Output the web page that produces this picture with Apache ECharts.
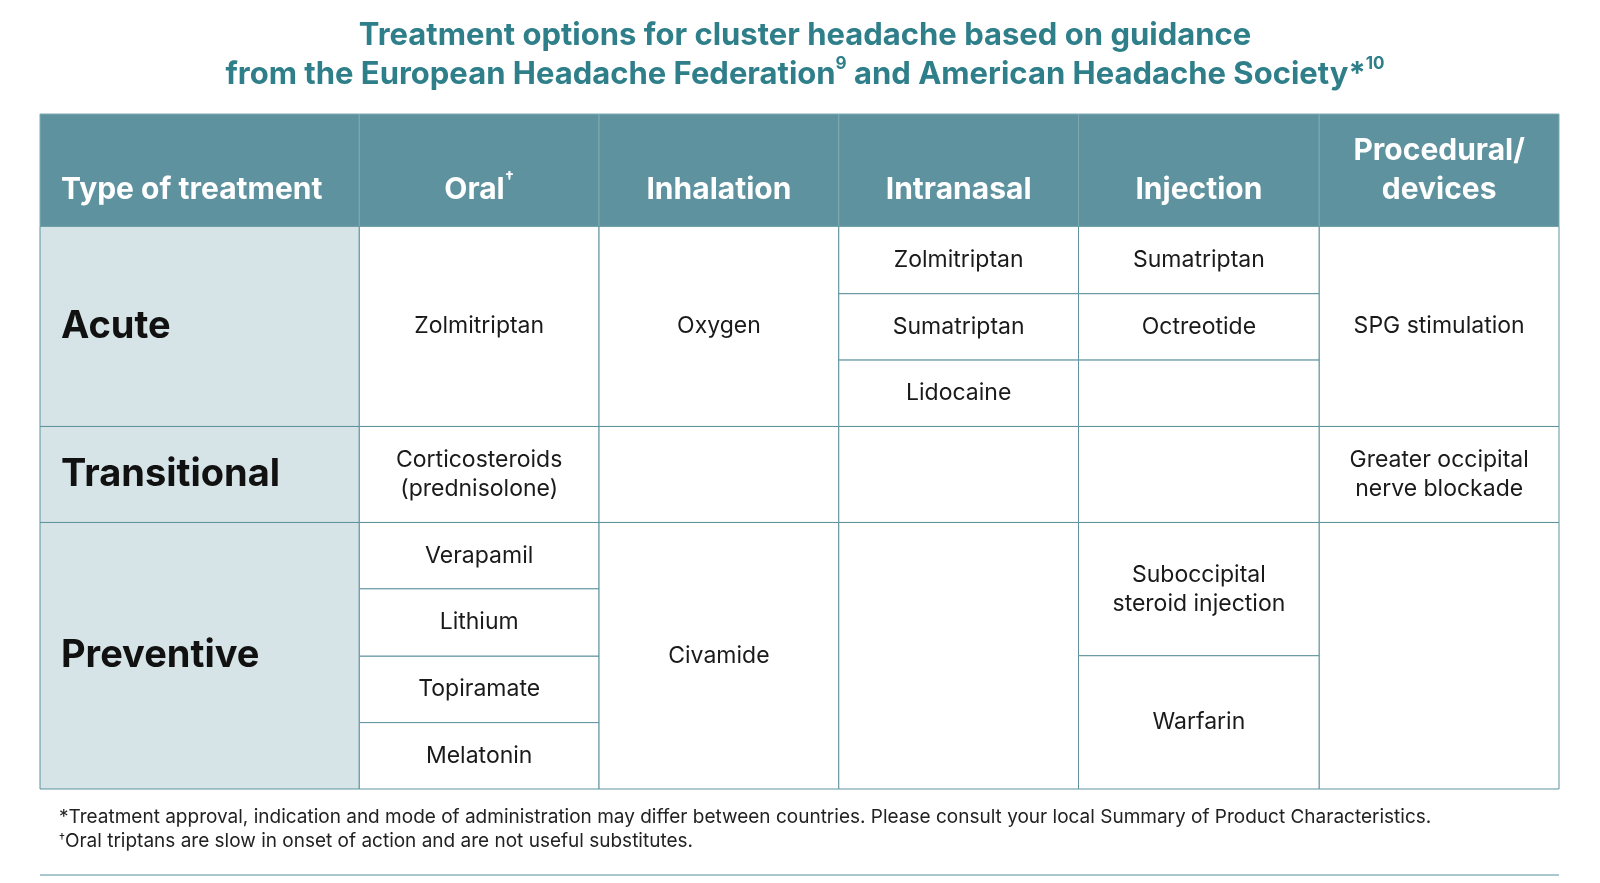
<!DOCTYPE html>
<html><head><meta charset="utf-8">
<script src="https://cdn.jsdelivr.net/npm/echarts@6/dist/echarts.min.js"></script>
<style>html,body{margin:0;padding:0;background:#fff}#c{width:1600px;height:883px}</style>
</head><body><div id="c"></div>
<script>
const headers = ['Type of treatment', 'Oral{s|†}', 'Inhalation', 'Intranasal', 'Injection', 'Procedural/\ndevices'];
const rowTypes = ['Acute', 'Transitional', 'Preventive'];
// column edges and row edges in table units
const colEdges = [0, 313, 548, 783, 1018, 1254, 1489];
const rowEdges = {head: [0, 110], acute: [110, 176, 241, 306], trans: [306, 400], prev: [400, 465, 531, 596, 661]};
const acuteOral = ['Zolmitriptan'];
const acuteInhalation = ['Oxygen'];
const acuteIntranasal = ['Zolmitriptan', 'Sumatriptan', 'Lidocaine'];
const acuteInjection = ['Sumatriptan', 'Octreotide', ''];
const acuteProcedural = ['SPG stimulation'];
const transitional = ['Corticosteroids\n(prednisolone)', '', '', '', 'Greater occipital\nnerve blockade'];
const preventiveOral = ['Verapamil', 'Lithium', 'Topiramate', 'Melatonin'];
const preventiveInhalation = ['Civamide'];
const preventiveIntranasal = [''];
const preventiveInjection = ['Suboccipital\nsteroid injection', 'Warfarin'];
const preventiveProcedural = [''];

const cells = [];
function add(col, y0, y1, text, kind) { cells.push({col, y0, y1, text, kind}); }
headers.forEach((h, i) => add(i, rowEdges.head[0], rowEdges.head[1], h, i === 0 ? 'headL' : 'head'));
add(0, rowEdges.acute[0], rowEdges.acute[3], rowTypes[0], 'label');
add(0, rowEdges.trans[0], rowEdges.trans[1], rowTypes[1], 'label');
add(0, rowEdges.prev[0], rowEdges.prev[4], rowTypes[2], 'label');
function stack(col, list, edges) {
  const n = list.length;
  if (n === 1) { add(col, edges[0], edges[edges.length - 1], list[0], 'cell'); return; }
  if (n === edges.length - 1) { list.forEach((t, i) => add(col, edges[i], edges[i + 1], t, 'cell')); return; }
  const first = edges[0], last = edges[edges.length - 1], step = (last - first) / n;
  list.forEach((t, i) => add(col, first + step * i, first + step * (i + 1), t, 'cell'));
}
stack(1, acuteOral, rowEdges.acute); stack(2, acuteInhalation, rowEdges.acute);
stack(3, acuteIntranasal, rowEdges.acute); stack(4, acuteInjection, rowEdges.acute);
stack(5, acuteProcedural, rowEdges.acute);
transitional.forEach((t, i) => add(i + 1, rowEdges.trans[0], rowEdges.trans[1], t, 'cell'));
stack(1, preventiveOral, rowEdges.prev); stack(2, preventiveInhalation, rowEdges.prev);
stack(3, preventiveIntranasal, rowEdges.prev); stack(4, preventiveInjection, rowEdges.prev);
stack(5, preventiveProcedural, rowEdges.prev);

const data = cells.map(c => [colEdges[c.col], colEdges[c.col + 1], c.y0, c.y1]);
const FONT = 'Inter, "Noto Sans", sans-serif';
const chart = echarts.init(document.getElementById('c'));
chart.setOption({
  animation: false,
  title: {
    text: 'Treatment options for cluster headache based on guidance\nfrom the European Headache Federation{s|9} and American Headache Society*{s|10}',
    left: 800, top: 11, textAlign: 'center',
    textStyle: {color: '#2f7f8a', fontSize: 31, fontWeight: 'bold', fontFamily: FONT, lineHeight: 39,
      rich: {s: {fontSize: 17, fontWeight: 'bold', color: '#2f7f8a', verticalAlign: 'top', padding: [0, 0, 14, 0], fontFamily: FONT}}}
  },
  grid: {left: 40, right: 41, top: 114, bottom: 94},
  xAxis: {type: 'value', min: 0, max: 1489, show: false},
  yAxis: {type: 'value', min: 0, max: 661, inverse: true, show: false},
  series: [{
    type: 'custom', data: data, clip: false,
    renderItem(params, api) {
      const c = cells[params.dataIndex];
      const p0 = api.coord([api.value(0), api.value(2)]);
      const p1 = api.coord([api.value(1), api.value(3)]);
      const w = p1[0] - p0[0], h = p1[1] - p0[1];
      const isHead = c.kind === 'head' || c.kind === 'headL';
      const fill = isHead ? '#5d929e' : (c.kind === 'label' ? '#d6e4e7' : '#ffffff');
      const left = c.kind === 'headL' || c.kind === 'label';
      let style;
      if (isHead) style = {fill: '#fff', font: 'bold 30px ' + FONT, lineHeight: 39,
        rich: {s: {fill: '#fff', font: 'bold 16px ' + FONT, verticalAlign: 'top', padding: [0, 0, 14, 0]}}};
      else if (c.kind === 'label') style = {fill: '#111', font: 'bold 38px ' + FONT};
      else style = {fill: '#1a1a1a', font: '23px ' + FONT, lineHeight: 29};
      const dy = isHead && c.col !== 5 ? 20 : 0;
      return {type: 'group', children: [
        {type: 'rect', shape: {x: p0[0], y: p0[1], width: w, height: h},
          style: {fill: fill, stroke: isHead ? '#7ea9b3' : '#5d929e', lineWidth: 1}},
        {type: 'text', x: left ? p0[0] + 21 : p0[0] + w / 2, y: p0[1] + h / 2 + dy,
          style: Object.assign({text: c.text, align: left ? 'left' : 'center', verticalAlign: 'middle'}, style)}
      ]};
    }
  }],
  graphic: [
    {type: 'text', left: 59, top: 808, style: {text: '*Treatment approval, indication and mode of administration may differ between countries. Please consult your local Summary of Product Characteristics.', fill: '#222', font: '19px ' + FONT}},
    {type: 'text', left: 59, top: 832, style: {text: '{s|†}Oral triptans are slow in onset of action and are not useful substitutes.', fill: '#222', font: '19px ' + FONT, rich: {s: {font: '12px ' + FONT, fill: '#222', verticalAlign: 'top'}}}},
    {type: 'rect', shape: {x: 40, y: 874, width: 1519, height: 2}, style: {fill: '#a9c7ce'}}
  ]
});
</script></body></html>
